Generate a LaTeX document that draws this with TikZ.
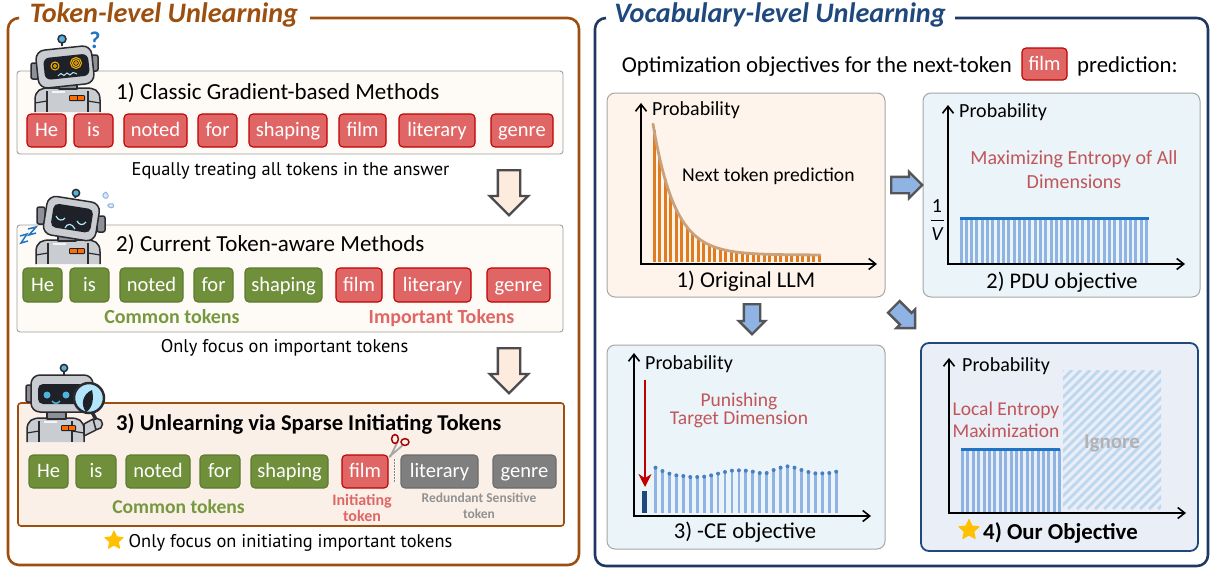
\documentclass[tikz,border=0pt]{standalone}
\usepackage{fontspec}
\setmainfont{Carlito}
\newfontfamily\capfont{PT Sans}
\usetikzlibrary{arrows.meta,shapes.geometric,shapes.arrows}
\definecolor{brownf}{HTML}{9C4F0E}
\definecolor{navyf}{HTML}{1F3864}
\definecolor{titleb}{HTML}{1F497D}
\definecolor{tokred}{HTML}{E06666}
\definecolor{tokredb}{HTML}{C00000}
\definecolor{tokgreen}{HTML}{6F8F3A}
\definecolor{tokgreenb}{HTML}{5E7A30}
\definecolor{tokgray}{HTML}{7F7F7F}
\definecolor{redtxt}{HTML}{C0565A}
\definecolor{greentxt}{HTML}{76993F}
\definecolor{barblue}{HTML}{8FB4E3}
\definecolor{lineblue}{HTML}{1F74C4}
\definecolor{dotblue}{HTML}{4A7EC4}
\definecolor{barorange}{HTML}{E07B20}
\definecolor{curvetan}{HTML}{C9A27C}
\definecolor{gold}{HTML}{FFC000}
\definecolor{metal}{HTML}{C9CCD1}
\definecolor{metald}{HTML}{8D9096}
\definecolor{ink}{HTML}{2B2B30}
\definecolor{scr}{HTML}{1E2128}
\definecolor{antb}{HTML}{4FB3E0}
\definecolor{peach}{HTML}{FDEBDD}
\definecolor{fillstep}{HTML}{FEFBF6}
\definecolor{fillthree}{HTML}{FBF0E8}
\definecolor{fillpa}{HTML}{FEF4EC}
\definecolor{fillpb}{HTML}{EBF4F8}
\definecolor{fillpd}{HTML}{E9EEF7}
\definecolor{stripe}{HTML}{BDD7EE}
\tikzset{
  x=1pt,y=-1pt,
  framepath/.style={line width=2.6pt,rounded corners=11pt},
  tok/.style={draw,rounded corners=4pt,line width=1.1pt,text=white,font=\fontsize{20.5}{20}\selectfont,inner sep=0pt,text height=15pt,text depth=2.5pt,align=center},
  tokr/.style={tok,fill=tokred,draw=tokredb},
  tokg/.style={tok,fill=tokgreen,draw=tokgreenb},
  tokk/.style={tok,fill=tokgray,draw=tokgray!85!black},
  stepbox/.style={draw=gray!75,rounded corners=3pt,line width=.9pt,fill=#1,inner sep=0pt},
  panel/.style={draw=gray!70,rounded corners=8pt,line width=1pt,fill=#1,inner sep=0pt},
  heading/.style={font=\fontsize{23}{24}\selectfont,inner sep=0pt,yshift=-1pt},
  caption/.style={font=\capfont\fontsize{18.4}{20}\selectfont,inner sep=0pt,yshift=-1pt},
  plabel/.style={font=\fontsize{20}{24}\selectfont,inner sep=0pt,yshift=-1.5pt},
  rednote/.style={text=redtxt,font=\fontsize{20}{24}\selectfont,inner sep=0pt,align=center,yshift=-1pt},
  axisarrow/.style={line width=1.7pt,-{Straight Barb[length=7pt,width=11pt,line width=1.6pt]}},
  peacharrow/.style={single arrow,draw=ink!85,fill=peach,line width=2.4pt,inner sep=0pt},
  bararrow/.style={single arrow,draw=ink!80,fill=barblue,line width=2.4pt,inner sep=0pt},
  starmark/.style={star,star points=5,star point ratio=2.1,fill=gold,draw=gold,line join=round,line width=1pt,inner sep=0pt,minimum size=19pt},
  robline/.style={draw=ink,line width=1.5pt,line join=round},
}
\newcommand\boxat[6]{\node[#1,minimum width={(#5-#3)*1pt},minimum height={(#6-#4)*1pt}] (#2) at ({(#3+#5)/2},{(#4+#6)/2}) {};}
\newcommand\tokat[7]{\node[#1,minimum width={(#4-#3)*1pt},minimum height={(#6-#5)*1pt}] (#2) at ({(#3+#4)/2},{(#5+#6)/2}) {#7};}
\newcommand\axesat[5]{%
  \coordinate (#1o) at (#2,#4);\coordinate (#1t) at (#2,#3);\coordinate (#1r) at (#5,#4);
  \draw[axisarrow] (#1o) -- (#1t);\draw[axisarrow] ([xshift=-.8pt]#1o) -- (#1r);}
\newcommand\robotbody[3]{% x-left, x-right, y-top; bottom comes from y+24
  \draw[robline,fill=metal] (#1,#3+24) -- (#1,#3+12) .. controls (#1,#3+2) and (#1+6,#3) .. (#1+14,#3) -- (#2-14,#3) .. controls (#2-6,#3) and (#2,#3+2) .. (#2,#3+12) -- (#2,#3+24);
  \draw[robline,line width=1.2pt] (#1+12,#3+3) -- (#1+12,#3+24);
  \draw[robline,line width=1.2pt] (#2-12,#3+3) -- (#2-12,#3+24);
  \draw[robline,line width=1.2pt] (#1,#3+15) -- (#1+12,#3+13);
  \draw[robline,line width=1.2pt] (#2,#3+15) -- (#2-12,#3+13);
  \fill[white!80!metal] (#1+17,#3+3) rectangle (#1+30,#3+5);
}
\begin{document}
\begin{tikzpicture}
\useasboundingbox[fill=white] (0,0) rectangle (1210,568);
% ---------- frames
\draw[framepath,draw=brownf] (18,18) -- (8,18) -- (8,565) -- (579,565) -- (579,18) -- (310,18);
\draw[framepath,draw=navyf] (606,18) -- (595,18) -- (595,566) -- (1208,566) -- (1208,18) -- (955,18);
\node[inner sep=0pt,text=brownf,font=\fontsize{28.2}{32}\selectfont\bfseries\itshape] (t1) at (164,15) {Token-level Unlearning};
\node[inner sep=0pt,text=titleb,font=\fontsize{28.2}{32}\selectfont\bfseries\itshape] (t2) at (780,15) {Vocabulary-level Unlearning};
% ---------- left step boxes
\boxat{stepbox=fillstep}{b1}{17}{71}{563}{154}
\boxat{stepbox=fillstep}{b2}{17}{225}{563}{332}
\node[draw=brownf,rounded corners=3pt,line width=1.6pt,fill=fillthree,inner sep=0pt,minimum width=546pt,minimum height=123pt] (b3) at (291,464.5) {};
\node[heading,anchor=west] (h1) at (116,92) {1) Classic Gradient-based Methods};
\node[heading,anchor=west] (h2) at (116,244) {2) Current Token-aware Methods};
\node[heading,anchor=west,font=\fontsize{22.6}{24}\selectfont\bfseries] (h3) at (116,423) {3) Unlearning via Sparse Initiating Tokens};
% row 1
\tokat{tokr}{a1}{27}{66}{114}{147}{He}
\tokat{tokr}{a2}{74}{113}{114}{147}{is}
\tokat{tokr}{a3}{124}{187}{114}{147}{noted}
\tokat{tokr}{a4}{198}{237}{114}{147}{for}
\tokat{tokr}{a5}{249}{327}{114}{147}{shaping}
\tokat{tokr}{a6}{339}{386}{114}{147}{film}
\tokat{tokr}{a7}{399}{475}{114}{147}{literary}
\tokat{tokr}{a8}{491}{553}{114}{147}{genre}
% row 2
\tokat{tokg}{c1}{23}{62}{268}{302}{He}
\tokat{tokg}{c2}{70}{109}{268}{302}{is}
\tokat{tokg}{c3}{120}{183}{268}{302}{noted}
\tokat{tokg}{c4}{194}{233}{268}{302}{for}
\tokat{tokg}{c5}{245}{322}{268}{302}{shaping}
\tokat{tokr}{c6}{336}{382}{268}{302}{film}
\tokat{tokr}{c7}{394}{471}{268}{302}{literary}
\tokat{tokr}{c8}{487}{550}{268}{302}{genre}
\node[inner sep=0pt,text=greentxt,font=\fontsize{20}{20}\selectfont\bfseries] (cc) at (172,317) {Common tokens};
\node[inner sep=0pt,text=tokred,font=\fontsize{20}{20}\selectfont\bfseries] (ci) at (441.5,318) {Important Tokens};
% row 3
\tokat{tokg}{d1}{29}{68}{455}{488}{He}
\tokat{tokg}{d2}{76}{116}{455}{488}{is}
\tokat{tokg}{d3}{126}{190}{455}{488}{noted}
\tokat{tokg}{d4}{200}{240}{455}{488}{for}
\tokat{tokg}{d5}{251}{328}{455}{488}{shaping}
\tokat{tokr}{d6}{342}{388}{455}{488}{film}
\tokat{tokk}{d7}{401}{478}{455}{488}{literary}
\tokat{tokk}{d8}{493}{556}{455}{488}{genre}
\node[inner sep=0pt,text=greentxt,font=\fontsize{19.6}{20}\selectfont\bfseries] (dc) at (178.5,507) {Common tokens};
\node[inner sep=0pt,text=tokred,align=center,font=\fontsize{16}{15.5}\selectfont\bfseries] (di) at (362,508) {Initiating\\token};
\node[inner sep=0pt,text=tokgray!85,align=center,font=\fontsize{13.5}{16.5}\selectfont\bfseries] (dr) at (479,506) {Redundant Sensitive\\token};
% captions
\node[caption] (n1) at (290.5,170) {Equally treating all tokens in the answer};
\node[caption] (n2) at (284.5,347) {Only focus on important tokens};
\node[caption] (n3) at (290.5,542) {Only focus on initiating important tokens};
\node[starmark] (s1) at (114,540.5) {};
% left block arrows
\node[peacharrow,rotate=-90,anchor=tail,minimum width=36pt,minimum height=45pt,single arrow head extend=8pt,inner ysep=10pt] (pa1) at (509,169) {};
\node[peacharrow,rotate=-90,anchor=tail,minimum width=36pt,minimum height=45pt,single arrow head extend=8pt,inner ysep=10pt] (pa2) at (509,347) {};
% ---------- robot 1
\robotbody{35}{100}{88}
\draw[robline,fill=metald] (59,84) rectangle (77,89);
\fill[scr,rounded corners=1pt] (69,95) rectangle (85,101);
\fill[orange!85!red] (70,96) rectangle (76.5,100);\fill[orange!85!red] (78,96) rectangle (84,100);
\draw[robline] (62,46) -- (62,42);
\draw[robline,fill=antb] (62,39) circle (4);
\draw[robline,fill=metald,rounded corners=2pt] (31,63) rectangle (39,79);
\draw[robline,fill=metald,rounded corners=2pt] (90,55) rectangle (98,71);
\begin{scope}[rotate around={6:(65,67)}]
\draw[robline,fill=metal,rounded corners=9pt] (37,48) rectangle (93,86);
\fill[scr,rounded corners=6pt] (44,56) rectangle (89,78);
\end{scope}
\draw[gold!85!orange,line width=1pt] (55,66) circle (1.5) (55,66) circle (4);
\draw[gold!85!orange,line width=1pt] (76,63) circle (1.5) (76,63) circle (3.5) (76,63) circle (5.5);
\draw[cyan!30!white,line width=1pt] plot[smooth] coordinates {(58,76) (61,73.5) (64,75.5) (67,73) (70,75) (73,72.5) (77,74)};
\node[inner sep=0pt,text=lineblue,font=\fontsize{24}{24}\selectfont\bfseries] (q) at (95,40) {?};
% ---------- robot 2
\robotbody{36}{100}{240}
\draw[robline,fill=metald] (58,235) rectangle (76,241);
\fill[scr,rounded corners=1pt] (69,248) rectangle (85,254);
\fill[orange!85!red] (70,249) rectangle (76.5,253);\fill[orange!85!red] (78,249) rectangle (84,253);
\draw[robline] (75,198) -- (76,194);
\draw[robline,fill=antb] (76,193) circle (3.6);
\draw[robline,fill=metald,rounded corners=2pt] (37,207) rectangle (45,224);
\draw[robline,fill=metald,rounded corners=2pt] (97,216) rectangle (105,232);
\begin{scope}[rotate around={-9:(71,218)}]
\draw[robline,fill=metal,rounded corners=9pt] (45,199) rectangle (98,238);
\fill[scr,rounded corners=5pt] (52,206) rectangle (92,230);
\end{scope}
\draw[cyan!30!white,line width=1.2pt] (56,216) .. controls (58,221) and (63,221) .. (65,218);
\draw[cyan!30!white,line width=1.2pt] (77,221) .. controls (79,225) and (83,226) .. (86,222);
\draw[cyan!30!white,line width=1.2pt] (65,228) .. controls (67,223) and (72,223) .. (75,229);
\draw[barblue,line width=1pt,fill=barblue!30!white] (106,192) .. controls (110,196) and (108,199) .. (105,198) .. controls (102,197) and (102,194) .. (106,192);
\draw[barblue,line width=1pt,fill=barblue!30!white] (113,204) .. controls (115,207) and (112,209) .. (109,207) .. controls (106,205) and (109,203) .. (113,204);
\draw[lineblue,line width=1.5pt] (20,236) -- (27,234) -- (21,243) -- (28,241);
\draw[lineblue,line width=1.5pt] (28,229) -- (36,227) -- (29,235) -- (36,233);
% ---------- robot 3
\robotbody{27}{84}{418}
\draw[robline,fill=metald] (47,412) rectangle (66,419);
\fill[scr,rounded corners=1pt] (61,425) rectangle (76,431);
\fill[orange!85!red] (62,426) rectangle (68,430);\fill[orange!85!red] (69,426) rectangle (75,430);
\draw[robline] (64,372) -- (64,376);
\draw[robline,fill=antb] (64,368) circle (3.6);
\draw[robline,fill=metald,rounded corners=2pt] (26,385) rectangle (33,402);
\draw[robline,fill=metal,rounded corners=9pt] (31,375) rectangle (93,412);
\fill[scr,rounded corners=5pt] (38,384) rectangle (84,404);
\fill[antb] (47,395) circle (3.5) (66,395) circle (3.5);
\draw[antb,line width=1.4pt] (52,401) .. controls (54,404) and (58,404) .. (60,401);
\draw[ink,line width=3.5pt,line cap=round] (92,412) -- (99,425);
\draw[robline,fill=metal] (97,424) circle (5.5);
\draw[robline,line width=1.5pt,fill=metal] (84,424) -- (93,419) -- (96,430) -- (84,436) -- cycle;
\draw[ink,line width=2.5pt,fill=cyan!30!white] (89,398) circle (15);
\fill[scr] (86,412) .. controls (80,404) and (83,394) .. (92,390) .. controls (94,398) and (93,408) .. (86,412);
% scissors
\draw[gray,line width=1pt,dash pattern=on 2pt off 1pt,double=white,double distance=.5pt] (395,459) -- (395,483);
\draw[gray!70,line width=1.8pt] (397,443) -- (390,457);
\draw[gray!70,line width=1.8pt] (403,445) -- (389,457);
\draw[red!65!black,line width=1.5pt] (395,439) ellipse (3.4 and 4.5) (405,442) ellipse (4 and 3.4);
% ---------- right header
\node[plabel,font=\fontsize{22.8}{24}\selectfont,anchor=east] (hr1) at (1012,65) {Optimization objectives for the next-token};
\tokat{tokr}{ht}{1022}{1067}{48}{80}{film}
\node[plabel,font=\fontsize{22.8}{24}\selectfont,anchor=west] (hr2) at (1077,65) {prediction:};
% ---------- panels
\boxat{panel=fillpa}{p1}{607}{93}{885}{297}
\boxat{panel=fillpb}{p2}{923}{93}{1200}{297}
\boxat{panel=fillpb}{p3}{607}{345}{885}{549}
\node[draw=titleb,rounded corners=8pt,line width=1.8pt,fill=fillpd,inner sep=0pt,minimum width=277pt,minimum height=208pt] (p4) at (1059.5,447) {};
% panel 1
\foreach \i in {0,...,30}{
  \pgfmathsetmacro\xx{654+5.5*\i}
  \pgfmathsetmacro\yy{255-131*exp(-(\xx-653)/22)}
  \draw[barorange,line width=3pt] (\xx,\yy) -- (\xx,262);
}
\draw[curvetan,line width=2.8pt,line cap=round,domain=653:820,samples=70,smooth,variable=\t] plot ({\t},{255-131*exp(-(\t-653)/22)});
\axesat{ax1}{641}{103}{264}{877}
\node[plabel,anchor=west] (y1) at (652,109) {Probability};
\node[plabel,anchor=west,font=\fontsize{19.6}{24}\selectfont] (m1) at (682,175) {Next token prediction};
\node[plabel,font=\fontsize{22.6}{24}\selectfont] (l1) at (746,280) {1) Original LLM};
% panel 2
\foreach \i in {0,...,35}{
  \pgfmathsetmacro\xx{961+5.3*\i}
  \draw[barblue,line width=3pt] (\xx,218) -- (\xx,263);
}
\draw[lineblue,line width=3pt] (960,218) -- (1149,218);
\axesat{ax2}{948}{105}{264}{1185}
\node[plabel,anchor=west] (y2) at (959,111) {Probability};
\node[rednote] (m2) at (1074,169) {Maximizing Entropy of All\\Dimensions};
\node[inner sep=0pt,font=\fontsize{20}{20}\selectfont] (f1) at (937,206) {1};
\node[inner sep=0pt,font=\fontsize{20}{20}\selectfont\itshape] (f2) at (937,234) {V};
\coordinate (fa) at (931,220.5);\coordinate (fb) at (944,220.5);
\draw[line width=1.6pt] (fa) -- (fb);
\node[plabel,font=\fontsize{22.4}{24}\selectfont] (l2) at (1062,281) {2) PDU objective};
% panel 3
\foreach \i/\t in {0/503,1/513,2/521,3/526,4/528,5/531,6/531,7/530,8/526,9/521,10/516,11/512,12/511,13/512,14/515,15/519,16/519,17/510,18/503,19/499,20/503,21/510,22/516,23/520,24/520,25/519,26/515}{
  \pgfmathsetmacro\xx{655.5+6.95*\i}
  \pgfmathsetmacro\yy{300+\t/3}
  \draw[barblue,line width=2.8pt] (\xx,\yy) -- (\xx,513);
  \fill[dotblue] (\xx,\yy) circle (2);
}
\fill[titleb] (642,491) rectangle (647,513);
\axesat{ax3}{634}{353}{516}{871}
\coordinate (ra) at (645,380);\coordinate (rb) at (645,487);
\draw[tokredb,line width=2.4pt,-{Stealth[length=13pt,width=13pt]}] (ra) -- (rb);
\node[plabel,anchor=west] (y3) at (645,363) {Probability};
\node[rednote,font=\fontsize{19.5}{18}\selectfont] (m3) at (739,409) {Punishing\\Target Dimension};
\node[plabel,font=\fontsize{22.6}{24}\selectfont] (l3) at (745,531) {3) -CE objective};
% panel 4
\foreach \i in {0,...,18}{
  \pgfmathsetmacro\xx{962.5+5.4*\i}
  \draw[barblue,line width=3pt] (\xx,449) -- (\xx,512);
}
\draw[lineblue,line width=3pt] (961,449) -- (1060,449);
\begin{scope}
\clip (1063,370) rectangle (1161,509);
\foreach \k in {0,...,28}{
  \pgfmathsetmacro\xx{1063+9*\k}
  \draw[stripe,line width=2.8pt] (\xx,370) -- (\xx-139,509);
}
\end{scope}
\axesat{ax4}{949}{358}{513}{1186}
\node[plabel,anchor=west] (y4) at (962,365) {Probability};
\node[rednote,font=\fontsize{19.5}{22}\selectfont] (m4) at (1006,419) {Local Entropy\\Maximization};
\node[inner sep=0pt,text=gray!60,font=\fontsize{21}{22}\selectfont\bfseries] (ig) at (1112,443) {Ignore};
\node[plabel,font=\fontsize{22.8}{24}\selectfont\bfseries,anchor=west] (l4) at (983,531) {4) Our Objective};
\node[starmark,minimum size=21pt] (s2) at (969,530) {};
% panel block arrows
\node[bararrow,anchor=tail,minimum width=25pt,minimum height=31pt,single arrow head extend=5pt,inner ysep=7pt] (ba1) at (890,185) {};
\node[bararrow,rotate=-90,anchor=tail,minimum width=25pt,minimum height=30pt,single arrow head extend=5pt,inner ysep=7pt] (ba2) at (752,303) {};
\node[bararrow,rotate=-45,anchor=tail,minimum width=24pt,minimum height=30pt,single arrow head extend=5pt,inner ysep=7pt] (ba3) at (893,306) {};
\end{tikzpicture}
\end{document}
